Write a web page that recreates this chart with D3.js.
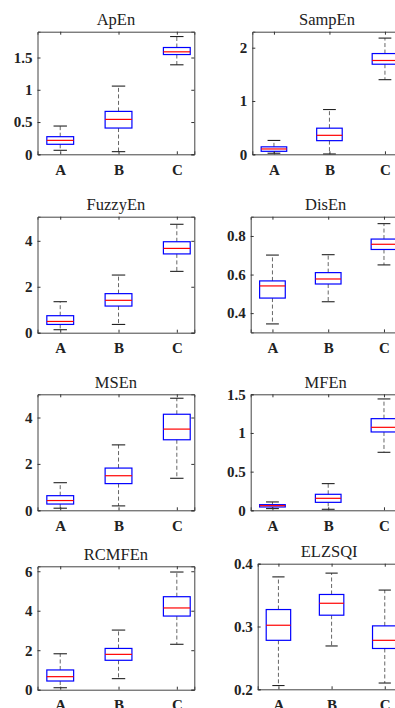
<!DOCTYPE html>
<html>
<head>
<meta charset="utf-8">
<script src="https://cdn.jsdelivr.net/npm/d3@7"></script>
<style>
  body { margin: 0; background: #fff; overflow: hidden; }
  svg { display: block; }
</style>
</head>
<body>
<div id="chart"></div>
<script>
// box stats per group: [lower whisker, q1, median, q3, upper whisker]
var categories = ["A", "B", "C"];
var titles = ["ApEn", "SampEn", "FuzzyEn", "DisEn", "MSEn", "MFEn", "RCMFEn", "ELZSQI"];

var apEn    = [[0.062, 0.155, 0.216, 0.273, 0.438], [0.041, 0.407, 0.541, 0.665, 1.057], [1.387, 1.546, 1.588, 1.655, 1.825]];
var sampEn  = [[0.02, 0.056, 0.10, 0.14, 0.26], [0.006, 0.256, 0.356, 0.49, 0.84], [1.40, 1.69, 1.76, 1.89, 2.18]];
var fuzzyEn = [[0.13, 0.36, 0.49, 0.74, 1.35], [0.36, 1.16, 1.41, 1.70, 2.51], [2.67, 3.43, 3.67, 3.96, 4.72]];
var disEn   = [[0.344, 0.478, 0.541, 0.567, 0.701], [0.459, 0.551, 0.577, 0.610, 0.703], [0.650, 0.730, 0.757, 0.784, 0.864]];
var msEn    = [[0.09, 0.27, 0.42, 0.63, 1.19], [0.19, 1.15, 1.49, 1.82, 2.82], [1.38, 3.04, 3.50, 4.14, 4.83]];
var mfEn    = [[0.022, 0.043, 0.060, 0.073, 0.108], [0.013, 0.103, 0.155, 0.207, 0.345], [0.75, 1.013, 1.073, 1.185, 1.44]];
var rcmfEn  = [[0.10, 0.44, 0.66, 1.0, 1.82], [0.56, 1.49, 1.79, 2.09, 3.02], [2.30, 3.73, 4.14, 4.71, 5.96]];
var elzsqi  = [[0.206, 0.278, 0.302, 0.327, 0.379], [0.269, 0.318, 0.337, 0.351, 0.385], [0.210, 0.265, 0.278, 0.301, 0.358]];

var yTicks1 = [0, 0.5, 1, 1.5];
var yTicks2 = [0, 1, 2];
var yTicks3 = [0, 2, 4];
var yTicks4 = [0.4, 0.6, 0.8];
var yTicks5 = [0, 2, 4];
var yTicks6 = [0, 0.5, 1, 1.5];
var yTicks7 = [0, 2, 4, 6];
var yTicks8 = [0.2, 0.3, 0.4];

var allData = [apEn, sampEn, fuzzyEn, disEn, msEn, mfEn, rcmfEn, elzsqi];
var allTicks = [yTicks1, yTicks2, yTicks3, yTicks4, yTicks5, yTicks6, yTicks7, yTicks8];

// panel placement
var panels = [
  { x: 37.5,  y: 31.7,  w: 156.8, h: 122.6, yDom: [0, 1.9] },
  { x: 252.3, y: 31.7,  w: 149.3, h: 122.6, yDom: [0, 2.3] },
  { x: 37.5,  y: 216.7, w: 156.8, h: 116,   yDom: [0, 5.05] },
  { x: 250.7, y: 216.7, w: 150,   h: 115.7, yDom: [0.3, 0.9] },
  { x: 37.5,  y: 394.3, w: 156.8, h: 116,   yDom: [0, 5] },
  { x: 250.7, y: 394.3, w: 150,   h: 116,   yDom: [0, 1.5] },
  { x: 37.5,  y: 566.3, w: 156.8, h: 123.4, yDom: [0, 6.25] },
  { x: 257.7, y: 563.7, w: 143,   h: 125.6, yDom: [0.2, 0.4] }
];

var serif = '"Liberation Serif", "Times New Roman", Times, "DejaVu Serif", serif';

var svg = d3.select("#chart").append("svg")
  .attr("width", 395)
  .attr("height", 708);

var boxW = 0.46;

panels.forEach(function(p, i) {
  var data = allData[i];
  var g = svg.append("g").attr("transform", "translate(" + p.x + "," + p.y + ")");

  var x = d3.scaleLinear().domain([0.61, 3.3]).range([0, p.w]);
  var y = d3.scaleLinear().domain(p.yDom).range([p.h, 0]);
  var fmt = function(d) { return d3.format("~g")(d); };

  // boxes
  data.forEach(function(s, j) {
    var cx = x(j + 1);
    var half = (x(boxW / 2) - x(0));
    var cap = half / 2;
    var bg = g.append("g");
    // whiskers (dashed)
    bg.append("line").attr("x1", cx).attr("x2", cx).attr("y1", y(s[3])).attr("y2", y(s[4]))
      .attr("stroke", "#666").attr("stroke-width", 1).attr("stroke-dasharray", "4,2.5");
    bg.append("line").attr("x1", cx).attr("x2", cx).attr("y1", y(s[1])).attr("y2", y(s[0]))
      .attr("stroke", "#666").attr("stroke-width", 1).attr("stroke-dasharray", "4,2.5");
    // caps
    [s[0], s[4]].forEach(function(v) {
      bg.append("line").attr("x1", cx - cap).attr("x2", cx + cap).attr("y1", y(v)).attr("y2", y(v))
        .attr("stroke", "#222").attr("stroke-width", 1.1);
    });
    // box
    bg.append("rect").attr("x", cx - half).attr("width", 2 * half)
      .attr("y", y(s[3])).attr("height", y(s[1]) - y(s[3]))
      .attr("fill", "none").attr("stroke", "#0000ff").attr("stroke-width", 1.2);
    // median
    bg.append("line").attr("x1", cx - half).attr("x2", cx + half).attr("y1", y(s[2])).attr("y2", y(s[2]))
      .attr("stroke", "#ff0000").attr("stroke-width", 1.2);
  });

  // axes
  var xb = g.append("g").attr("transform", "translate(0," + p.h + ")")
    .call(d3.axisBottom(x).tickValues([1, 2, 3]).tickFormat(function(d) { return categories[d - 1]; })
      .tickSize(-3).tickPadding(10));
  var xt = g.append("g")
    .call(d3.axisTop(x).tickValues([1, 2, 3]).tickFormat("").tickSize(-3));
  var yl = g.append("g")
    .call(d3.axisLeft(y).tickValues(allTicks[i]).tickFormat(fmt).tickSize(-3).tickPadding(5));
  var yr = g.append("g").attr("transform", "translate(" + p.w + ",0)")
    .call(d3.axisRight(y).tickValues(allTicks[i]).tickFormat("").tickSize(-3));
  [xb, xt, yl, yr].forEach(function(a) {
    a.attr("font-family", null).attr("font-size", null);
    a.select(".domain").attr("stroke", "#444");
    a.selectAll(".tick line").attr("stroke", "#333");
    a.selectAll(".tick text")
      .style("font-family", serif).style("font-weight", "bold")
      .style("font-size", "15px").style("fill", "#222");
  });

  g.append("text")
    .attr("x", p.w / 2).attr("y", -6.7)
    .attr("text-anchor", "middle")
    .style("font-family", serif).style("font-size", "16.5px").style("fill", "#222")
    .text(titles[i]);
});
</script>
</body>
</html>
